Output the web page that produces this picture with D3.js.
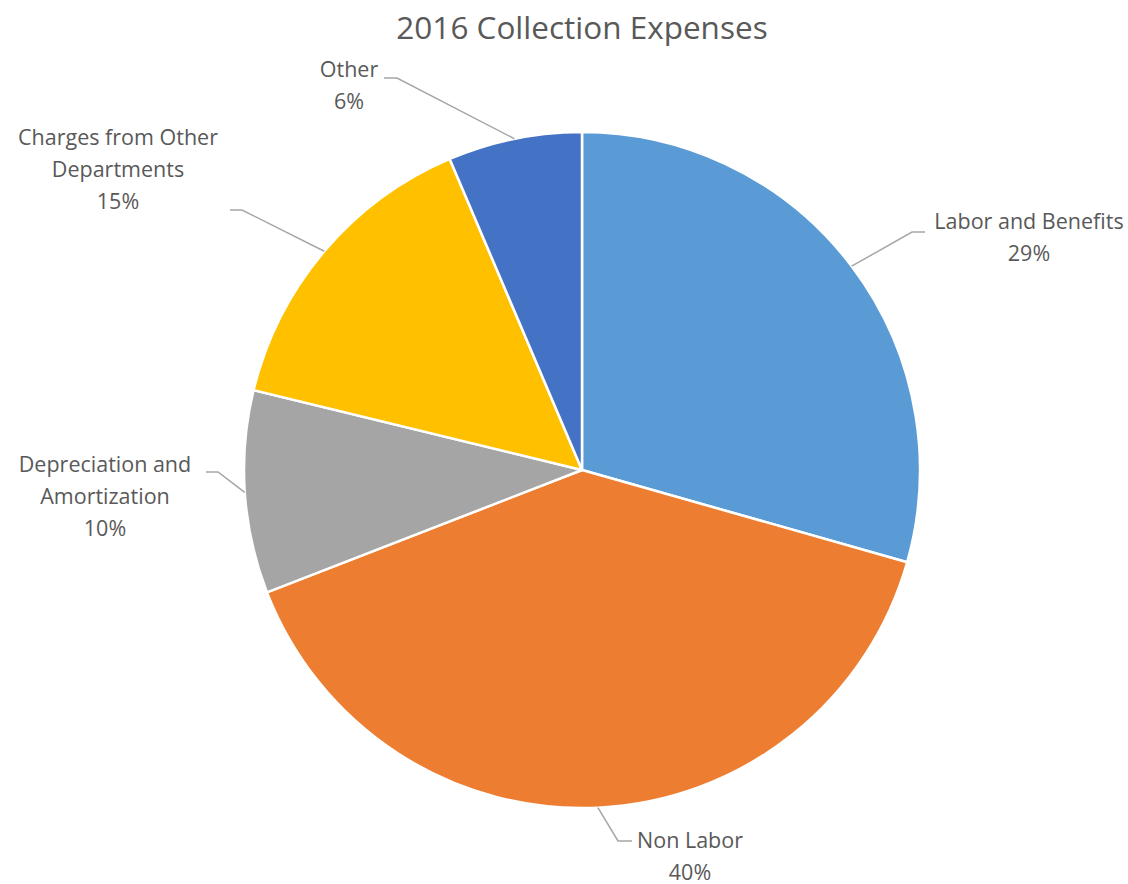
<!DOCTYPE html>
<html>
<head>
<meta charset="utf-8">
<script src="https://cdn.jsdelivr.net/npm/d3@7"></script>
<style>
  html, body { margin: 0; padding: 0; background: #fff; }
  svg { display: block; }
  text { font-family: "Open Sans", Lato, sans-serif; fill: #595959; }
</style>
</head>
<body>
<svg id="chart" width="1128" height="884"></svg>
<script>
// Expense categories (share of total, %), clockwise from 12 o'clock
const categories = ["Labor and Benefits", "Non Labor", "Depreciation and Amortization", "Charges from Other Departments", "Other"];
const values = [29.4, 39.7, 9.7, 14.8, 6.4];
const labelLines = [["Labor and Benefits"], ["Non Labor"], ["Depreciation and", "Amortization"], ["Charges from Other", "Departments"], ["Other"]];
const colors = ["#5B9BD5", "#ED7D31", "#A5A5A5", "#FFC000", "#4472C4"];

// label layout: elbow of the leader line, end of its horizontal tail, text anchor point and alignment
const labelLayout = [
  { elbow: [912, 232], tail: [925, 232], text: [1029, 229], anchor: "middle", leadLine: 0 },
  { elbow: [618, 841], tail: [632, 841], text: [690, 848], anchor: "middle", leadLine: 0 },
  { elbow: [218, 472], tail: [206, 472], text: [105, 472], anchor: "middle", leadLine: 0 },
  { elbow: [242, 210], tail: [230, 210], text: [118, 177], anchor: "middle", leadLine: 1 },
  { elbow: [397, 78], tail: [384, 78], text: [349, 77], anchor: "middle", leadLine: 0 }
];

const svg = d3.select("#chart");
const cx = 582, cy = 470, radius = 338;

svg.append("text")
  .attr("x", cx).attr("y", 39)
  .attr("text-anchor", "middle")
  .style("font-size", "31.5px")
  .text("2016 Collection Expenses");

const total = d3.sum(values);
const data = categories.map((c, i) => ({ name: c, value: values[i], i }));

const pie = d3.pie().value(d => d.value).sort(null);
const arcs = pie(data);
const arc = d3.arc().innerRadius(0).outerRadius(radius);
const edge = d3.arc().innerRadius(radius).outerRadius(radius);

const g = svg.append("g").attr("transform", `translate(${cx},${cy})`);

g.selectAll("path.slice")
  .data(arcs)
  .join("path")
  .attr("class", "slice")
  .attr("d", arc)
  .attr("fill", d => colors[d.data.i])
  .attr("stroke", "#fff")
  .attr("stroke-width", 2.5)
  .attr("stroke-linejoin", "round");

// leader lines from the slice's outer edge to its label
svg.selectAll("polyline.leader")
  .data(arcs)
  .join("polyline")
  .attr("class", "leader")
  .attr("fill", "none")
  .attr("stroke", "#A6A6A6")
  .attr("stroke-width", 1.5)
  .attr("points", d => {
    const [x, y] = edge.centroid(d);
    const L = labelLayout[d.data.i];
    return [[cx + x, cy + y], L.elbow, L.tail].map(p => p.join(",")).join(" ");
  });

const lineH = 32;
arcs.forEach(d => {
  const L = labelLayout[d.data.i];
  const lines = labelLines[d.data.i].concat([Math.round(d.data.value / total * 100) + "%"]);
  const t = svg.append("text")
    .attr("text-anchor", L.anchor)
    .style("font-size", "21.5px");
  lines.forEach((s, k) => {
    t.append("tspan")
      .attr("x", L.text[0])
      .attr("y", L.text[1] + (k - L.leadLine) * lineH)
      .text(s);
  });
});
</script>
</body>
</html>
